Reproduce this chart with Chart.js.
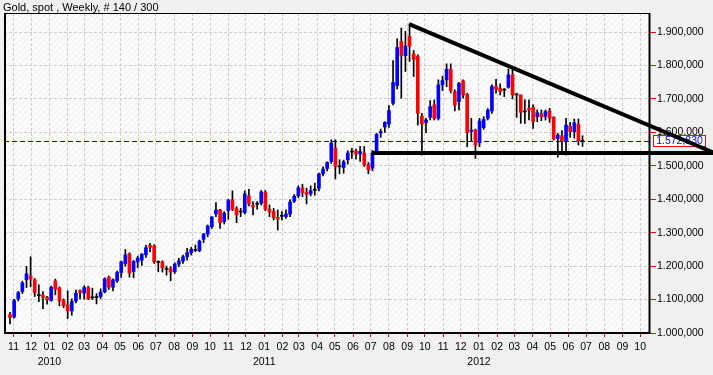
<!DOCTYPE html>
<html><head><meta charset="utf-8">
<script src="https://cdn.jsdelivr.net/npm/chart.js@4.4.1/dist/chart.umd.min.js"></script>
<style>
html,body{margin:0;padding:0;background:#f0f0f0;}
#wrap{position:relative;width:713px;height:375px;overflow:hidden;}
#title{position:absolute;left:3px;top:0px;font:11px "Liberation Sans",Arial,sans-serif;color:#000;line-height:14px;white-space:nowrap;}
canvas{display:block;}
</style></head><body>
<div id="wrap"><canvas id="c" width="713" height="375"></canvas><div id="title">Gold, spot , Weekly, # 140 / 300</div></div>
<script>
// Weekly candles, week 0 = week starting 2009-10-26
const firstWeek = [2009, 9, 26];
const opens = [1055,1048,1102,1124,1159,1171,1159,1114,1113,1107,1097,1156,1135,1097,1084,1066,1096,1127,1119,1136,
1105,1107,1109,1123,1167,1137,1156,1181,1207,1237,1184,1212,1218,1234,1262,1260,1213,1213,1192,1192,
1183,1206,1215,1228,1240,1249,1246,1280,1296,1318,1356,1368,1333,1366,1398,1372,1362,1360,1410,1382,
1385,1388,1420,1370,1364,1346,1349,1348,1356,1394,1410,1434,1421,1416,1427,1433,1476,1492,1513,1553,
1499,1495,1518,1541,1545,1536,1538,1503,1493,1542,1598,1616,1625,1687,1740,1872,1829,1887,1835,1827,
1649,1629,1645,1682,1642,1742,1757,1789,1722,1692,1754,1714,1603,1607,1569,1614,1642,1664,1737,1732,
1726,1735,1772,1714,1712,1661,1672,1675,1647,1657,1647,1664,1645,1582,1590,1575,1618,1602,1624,1574];
const highs = [1062,1101,1124,1155,1199,1228,1163,1144,1124,1110,1140,1161,1138,1102,1126,1102,1128,1129,1141,1140,
1134,1118,1132,1165,1170,1162,1185,1215,1250,1240,1217,1230,1237,1262,1268,1264,1216,1216,1200,1198,
1210,1223,1233,1253,1256,1263,1278,1298,1323,1348,1390,1370,1363,1400,1425,1378,1373,1425,1430,1393,
1393,1426,1426,1383,1373,1368,1363,1368,1398,1414,1440,1445,1433,1440,1448,1478,1497,1512,1578,1578,
1518,1517,1545,1552,1550,1558,1558,1510,1546,1597,1610,1632,1680,1815,1880,1912,1902,1924,1845,1832,
1657,1642,1695,1697,1757,1768,1805,1805,1727,1750,1757,1717,1642,1610,1642,1647,1671,1742,1759,1745,
1732,1789,1787,1717,1712,1697,1697,1682,1667,1667,1667,1672,1647,1597,1605,1642,1630,1640,1640,1590];
const lows = [1027,1044,1096,1118,1136,1138,1109,1094,1073,1086,1095,1114,1081,1076,1043,1053,1090,1102,1101,1100,
1100,1087,1103,1120,1130,1126,1151,1166,1200,1167,1165,1195,1202,1226,1243,1208,1183,1182,1173,1156,
1178,1198,1208,1218,1233,1243,1243,1270,1288,1313,1348,1313,1326,1340,1366,1330,1348,1356,1380,1353,
1370,1383,1366,1348,1338,1308,1338,1343,1348,1390,1405,1408,1386,1410,1412,1425,1470,1485,1507,1461,
1476,1478,1505,1522,1520,1513,1498,1476,1485,1540,1585,1600,1615,1682,1730,1702,1782,1812,1767,1622,
1532,1599,1637,1637,1637,1725,1737,1718,1664,1667,1702,1557,1575,1522,1557,1609,1637,1657,1717,1712,
1707,1732,1700,1645,1627,1627,1637,1612,1632,1635,1637,1630,1577,1526,1540,1532,1585,1583,1562,1558];
const closes = [1046,1097,1121,1150,1177,1162,1120,1112,1106,1099,1137,1131,1096,1082,1066,1094,1119,1121,1136,1102,
1107,1106,1123,1162,1137,1159,1181,1213,1234,1179,1214,1224,1236,1255,1256,1213,1211,1195,1190,1182,
1206,1216,1228,1240,1250,1247,1275,1296,1320,1347,1368,1330,1358,1396,1370,1353,1363,1416,1386,1377,
1387,1422,1370,1362,1345,1340,1350,1356,1392,1409,1434,1420,1415,1426,1429,1476,1490,1510,1568,1498,
1497,1512,1538,1543,1535,1543,1503,1488,1538,1594,1603,1630,1665,1749,1854,1830,1858,1857,1818,1657,
1625,1637,1677,1642,1742,1755,1789,1725,1682,1747,1712,1599,1607,1562,1634,1639,1667,1737,1729,1722,
1728,1772,1712,1712,1660,1663,1667,1632,1659,1647,1662,1642,1580,1592,1575,1622,1602,1629,1575,1572.83];
const lastPrice = 1572.83;

// Axis ticks
const yTickValues = [1000,1100,1200,1300,1400,1500,1600,1700,1800,1900];
const monthStarts = ['2009-11','2009-12','2010-01','2010-02','2010-03','2010-04','2010-05','2010-06','2010-07','2010-08','2010-09','2010-10',
'2010-11','2010-12','2011-01','2011-02','2011-03','2011-04','2011-05','2011-06','2011-07','2011-08','2011-09','2011-10',
'2011-11','2011-12','2012-01','2012-02','2012-03','2012-04','2012-05','2012-06','2012-07','2012-08','2012-09','2012-10'];

// Drawn trend lines (x in weeks since first candle, y price)
const resistanceLine = [{x:96.9, y:1924}, {x:170.7, y:1540}];
const supportLine = [{x:87.8, y:1538}, {x:170.7, y:1538}];

const X_MIN = -1.46, X_MAX = 155.38, Y_MIN = 1000, Y_MAX = 1957;
const FONT = '"Liberation Sans", Arial, sans-serif';
const DAY = 86400000;
const t0 = Date.UTC(firstWeek[0], firstWeek[1], firstWeek[2]);
const monthTickValues = monthStarts.map(s => { const [y, m] = s.split('-').map(Number); return (Date.UTC(y, m - 1, 1) - t0) / (7 * DAY); });
const monthTickLabels = monthStarts.map(s => { const [y, m] = s.split('-'); return m === '01' ? [m, y] : m; });

function fmt(v) {
  const s = Number(v).toFixed(3);
  const [i, d] = s.split('.');
  return i.replace(/\B(?=(\d{3})+(?!\d))/g, '.') + ',' + d;
}

const idx = opens.map((_, i) => i);
const bodyColors = idx.map(i => Math.abs(closes[i] - opens[i]) <= 2.5 ? '#000000' : (closes[i] > opens[i] ? '#0000ff' : '#ff0000'));

// hatch pattern for plot area
const pc = document.createElement('canvas'); pc.width = 6; pc.height = 6;
const pctx = pc.getContext('2d');
pctx.fillStyle = '#fbfbfb'; pctx.fillRect(0, 0, 6, 6);
pctx.strokeStyle = '#eeeeee'; pctx.lineWidth = 1;
pctx.beginPath(); pctx.moveTo(0, 6); pctx.lineTo(6, 0); pctx.stroke();

const bgPlugin = {
  id: 'bg',
  beforeDraw(chart) {
    const {ctx, chartArea: a} = chart;
    ctx.save();
    ctx.fillStyle = '#f0f0f0'; ctx.fillRect(0, 0, chart.width, chart.height);
    ctx.fillStyle = ctx.createPattern(pc, 'repeat');
    ctx.fillRect(a.left, a.top, a.right - a.left, a.bottom - a.top);
    ctx.restore();
  },
  beforeDatasetsDraw(chart) {
    const {ctx, chartArea: a, scales} = chart;
    ctx.save();
    ctx.strokeStyle = '#000';
    ctx.lineWidth = 1;
    ctx.beginPath(); ctx.moveTo(a.left, a.top + 0.5); ctx.lineTo(a.right, a.top + 0.5); ctx.stroke();
    ctx.lineWidth = 2;
    ctx.beginPath(); ctx.moveTo(a.left + 1, a.top); ctx.lineTo(a.left + 1, a.bottom + 1); ctx.stroke();
    ctx.beginPath(); ctx.moveTo(a.right - 0.5, a.top); ctx.lineTo(a.right - 0.5, a.bottom + 1); ctx.stroke();
    ctx.beginPath(); ctx.moveTo(a.left, a.bottom); ctx.lineTo(a.right + 0.5, a.bottom); ctx.stroke();
    // current price box
    const y = Math.round(scales.y.getPixelForValue(lastPrice));
    ctx.lineWidth = 1;
    ctx.fillStyle = '#ffffff';
    ctx.fillRect(653, y - 6, 53, 12);
    ctx.strokeStyle = '#ff0000';
    ctx.strokeRect(653.5, y - 5.5, 52, 11);
    ctx.fillStyle = '#0000ff';
    ctx.font = '10.5px ' + FONT;
    ctx.textAlign = 'center'; ctx.textBaseline = 'middle';
    ctx.fillText(fmt(lastPrice), 679.5, y + 0.5);
    ctx.restore();
  }
};

const gridColor = '#d8c9c9';
new Chart(document.getElementById('c'), {
  type: 'bar',
  data: {
    datasets: [
      {type: 'line', data: resistanceLine, borderColor: '#000', borderWidth: 4, pointRadius: 0, clip: false, order: 0, borderCapStyle: 'butt'},
      {type: 'line', data: supportLine, borderColor: '#000', borderWidth: 4, pointRadius: 0, clip: false, order: 0, borderCapStyle: 'butt'},
      {type: 'bar', data: idx.map(i => ({x: i, y: [opens[i], closes[i]]})), backgroundColor: bodyColors, barThickness: 3, minBarLength: 1, grouped: false, order: 1},
      {type: 'bar', data: idx.map(i => ({x: i, y: [lows[i], highs[i]]})), backgroundColor: '#000', barThickness: 1, grouped: false, order: 2},
      {type: 'line', data: [{x: X_MIN, y: lastPrice}, {x: X_MAX, y: lastPrice}], borderColor: '#0000cc', borderWidth: 1, borderDash: [5, 3], pointRadius: 0, order: 3}
    ]
  },
  options: {
    responsive: false,
    animation: false,
    events: [],
    devicePixelRatio: 1,
    layout: {padding: {left: 4, top: 13, right: 0, bottom: 0}},
    plugins: {legend: {display: false}, tooltip: {enabled: false}, title: {display: false}},
    scales: {
      x: {
        type: 'linear', min: X_MIN, max: X_MAX, offset: false,
        afterBuildTicks: s => { s.ticks = monthTickValues.map(v => ({value: v})); },
        afterFit: s => { s.height = 42; },
        grid: {color: gridColor, lineWidth: 1, tickColor: '#ff0000', tickLength: 4, tickWidth: 1, offset: false},
        border: {display: false, dash: [3, 2]},
        ticks: {autoSkip: false, maxRotation: 0, minRotation: 0, padding: 3, color: '#000',
          font: {family: FONT, size: 10.5, lineHeight: 1.43},
          callback: (v, i) => monthTickLabels[i]}
      },
      y: {
        position: 'right', min: Y_MIN, max: Y_MAX,
        afterBuildTicks: s => { s.ticks = yTickValues.map(v => ({value: v})); },
        afterFit: s => { s.width = 63; },
        grid: {color: gridColor, lineWidth: 1, tickColor: '#ff0000', tickLength: 6, tickWidth: 1},
        border: {display: false, dash: [3, 2]},
        ticks: {padding: 1, color: '#000', font: {family: FONT, size: 10.5}, callback: v => fmt(v)}
      }
    }
  },
  plugins: [bgPlugin]
});
</script>
</body></html>
